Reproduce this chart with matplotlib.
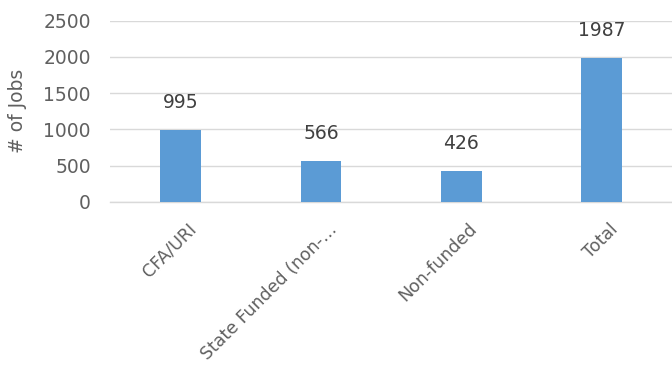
import matplotlib.pyplot as plt

categories = ["CFA/URI", "State Funded (non-\u2026", "Non-funded", "Total"]
jobs = [995, 566, 426, 1987]
yticks = [0, 500, 1000, 1500, 2000, 2500]

text_col = "#606060"

fig = plt.figure(figsize=(6.72, 3.67), dpi=100)
ax = fig.add_axes([0.164, 0.45, 0.836, 0.494])

x = list(range(len(categories)))
bars = ax.bar(x, jobs, width=0.29, color="#5B9BD5", zorder=3)

for b, v in zip(bars, jobs):
    ax.annotate(str(v), (b.get_x() + b.get_width() / 2, v),
                xytext=(0, 13), textcoords="offset points",
                ha="center", va="bottom", fontsize=13.5, color="#404040")

ax.set_xlim(-0.5, len(categories) - 0.5)
ax.set_ylim(0, 2500)
ax.set_yticks(yticks)
ax.yaxis.grid(True, color="#D9D9D9", lw=1, zorder=0)
ax.axhline(0, color="#D9D9D9", lw=1, zorder=1, clip_on=False)

# slanted category labels, drawn by hand so they can sit a bit right of centre
ax.set_xticks(x)
ax.set_xticklabels([])
for i, cat in zip(x, categories):
    ax.annotate(cat, (i, 0), xycoords=("data", "axes fraction"),
                xytext=(5, -13), textcoords="offset points",
                rotation=45, rotation_mode="anchor", ha="right", va="top",
                fontsize=12.5, color=text_col, annotation_clip=False)

ax.tick_params(axis="y", labelsize=13.5, labelcolor=text_col, length=0, pad=14)
ax.tick_params(axis="x", length=0)
for s in ax.spines.values():
    s.set_visible(False)
ax.set_ylabel("# of Jobs", fontsize=13.5, color=text_col)
ax.yaxis.set_label_coords(-0.149, 0.5)

fig.savefig("out.png", dpi=100)
